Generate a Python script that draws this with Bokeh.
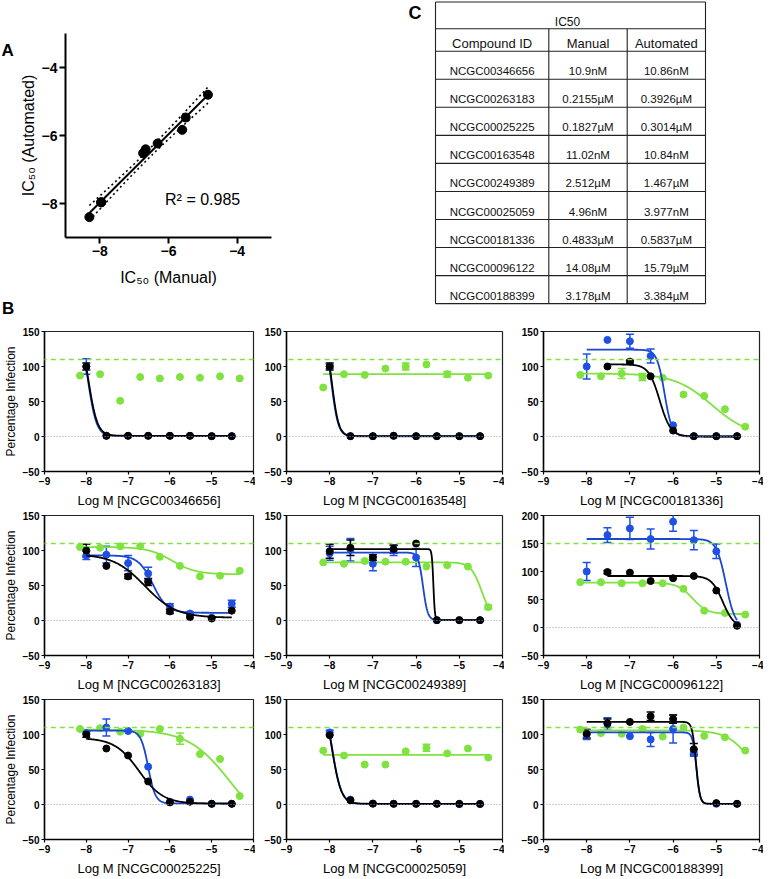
import numpy as np
from bokeh.plotting import figure
from bokeh.models import (Range1d, FixedTicker, Span, Whisker, TeeHead,
                          PolyAnnotation, ColumnDataSource, Spacer)
from bokeh.layouts import row, column
from bokeh.embed import file_html
from bokeh.resources import INLINE
from bokeh.core.properties import value

FONT = "Liberation Sans"
GREEN = "#7FE23F"
BLUE = "#1E50E6"
BLUE_LINE = "#1A46D0"
BLACK = "#000000"

# ---------------- Panel A / Table C data ----------------
compound_ids = ["NCGC00346656", "NCGC00263183", "NCGC00025225", "NCGC00163548",
                "NCGC00249389", "NCGC00025059", "NCGC00181336", "NCGC00096122",
                "NCGC00188399"]
ic50_manual_nM = [10.9, 215.5, 182.7, 11.02, 2512, 4.96, 483.3, 14080, 3178]
ic50_automated_nM = [10.86, 392.6, 301.4, 10.84, 1467, 3.977, 583.7, 15790, 3384]
r_squared = 0.985
t_975_df7 = 2.365

# ---------------- Panel B data ----------------
dose_bk = [-8.0, -7.52, -7.0, -6.52, -6.0, -5.52, -5.0, -4.52]      # black & blue
dose_gr = [-8.15, -7.67, -7.19, -6.71, -6.24, -5.76, -5.28, -4.80, -4.33]  # green
nan = float("nan")

panel_compounds = ["NCGC00346656", "NCGC00163548", "NCGC00181336",
                   "NCGC00263183", "NCGC00249389", "NCGC00096122",
                   "NCGC00025225", "NCGC00025059", "NCGC00188399"]
panel_ymax = [150, 150, 150, 150, 150, 200, 150, 150, 150]
green_ref_level = [110, 110, 110, 110, 110, 150, 110, 110, 110]

# NCGC00346656
bk_346656 = [100, 1, 1, 1, 1, 1, 0.5, 0.5]
bk_346656_err = [5, 0, 0, 0, 0, 0, 0, 0]
bl_346656 = [100, 1, 1, 1, 1, 1, 0.5, 0.5]
bl_346656_err = [11, 0, 0, 0, 0, 0, 0, 0]
gr_346656 = [87, 89, 51, 85, 83, 85, 84, 86, 83]
gr_346656_err = None
fit_bk_346656 = (160, 1, -7.95, 4)
fit_bl_346656 = (160, 0.5, -7.96, 4.2)
fit_gr_346656 = None

# NCGC00163548
bk_163548 = [100, 0.5, 0.5, 1, 0.5, 0.5, 0.5, 0.5]
bk_163548_err = [5, 0, 0, 0, 0, 0, 0, 0]
bl_163548 = [100, 0.5, 0.5, 1, 0.5, 0.5, 0.5, 0.5]
bl_163548_err = [3, 0, 0, 0, 0, 0, 0, 0]
gr_163548 = [70, 89, 88, 97, 100, 103, 89, 84, 87]
gr_163548_err = [0, 0, 0, 0, 5, 0, 4, 0, 0]
fit_bk_163548 = (153, 0.5, -7.95, 5.5)
fit_bl_163548 = (153, 0.3, -7.96, 5.5)
fit_gr_163548 = (89, 89, -6.0, 1)

# NCGC00181336
bk_181336 = [nan, 100, 107, 86, 8.4, 0.5, 0.5, 0.5]
bk_181336_err = [0, 0, 2, 0, 0, 0, 0, 0]
bl_181336 = [100, 138, 136, 115, 16, 0.5, 0.5, 0.5]
bl_181336_err = [18, 0, 10, 10, 0, 0, 0, 0]
gr_181336 = [88, 86, 90, 85, 84, 60, 58, 39, 14]
gr_181336_err = [0, 0, 7, 5, 0, 0, 0, 0, 0]
fit_bk_181336 = (103, 0, -6.31, 3.4)
fit_bl_181336 = (124, 0, -6.2, 5)
fit_gr_181336 = (90, 0, -5.1, 1)

# NCGC00263183
bk_263183 = [100, 78, 63, 55, 13, 4.7, 2.8, 14]
bk_263183_err = [9, 0, 3, 5, 3, 0, 0, 0]
bl_263183 = [93, 94, 82, 67, 20, 10, 4, 24]
bl_263183_err = [6, 12, 11, 9, 4, 2, 0, 5]
gr_263183 = [105, 104, 106, 106, 91, 78, 63, 64, 71]
gr_263183_err = None
fit_bk_263183 = (95, 4, -6.6, 1.15)
fit_bl_263183 = (93, 11, -6.41, 2.5)
fit_gr_263183 = (105, 66, -5.95, 1.5)

# NCGC00249389
bk_249389 = [99, 104, 90, 102, 110, 0.5, 0.5, 0.5]
bk_249389_err = [10, 11, 4, 6, 0, 0, 0, 0]
bl_249389 = [96, 101, 81, 100, 90, 0.5, 0.5, 0.5]
bl_249389_err = [10, 16, 10, 7, 13, 0, 0, 0]
gr_249389 = [83, 81, 85, 84, 84, 77, 79, 77, 19]
gr_249389_err = [0, 0, 2, 0, 0, 0, 0, 0, 3]
fit_bk_249389 = (102, 0.5, -5.6, 25)
fit_bl_249389 = (97, 0.5, -5.84, 8)
fit_gr_249389 = (83, 0, -4.48, 3.5)

# NCGC00096122
bk_096122 = [nan, 99, 98, 83, 88, 92, 66, 3]
bk_096122_err = [0, 3, 0, 0, 0, 0, 0, 0]
bl_096122 = [100, 165, 177, 158, 189, 156, 136, 5]
bl_096122_err = [16, 13, 20, 18, 17, 17, 13, 0]
gr_096122 = [81, 81, 79, 79, 79, 69, 30, 26, 23]
gr_096122_err = None
fit_bk_096122 = (92, 0, -4.85, 3.3)
fit_bl_096122 = (158, 0, -4.78, 4)
fit_gr_096122 = (80, 24, -5.55, 2.5)

# NCGC00025225
bk_025225 = [100, 80, 70, 33, 3, 4, 1, 1]
bk_025225_err = [4, 0, 0, 0, 0, 0, 0, 0]
bl_025225 = [102, 110, 105, 54, 4, 7, 1, 1]
bl_025225_err = [0, 12, 0, 0, 0, 0, 0, 0]
gr_025225 = [108, 109, 104, 101, 108, 94, 72, 65, 12]
gr_025225_err = [0, 0, 0, 0, 0, 8, 0, 0, 0]
fit_bk_025225 = (95, 1, -6.74, 1.5)
fit_bl_025225 = (105.5, 1.5, -6.52, 5)
fit_gr_025225 = (107, -40, -4.57, 0.88)

# NCGC00025059
bk_025059 = [99, 6, 1.4, 1, 1, 1, 1, 1]
bk_025059_err = None
bl_025059 = [103, 7, 1, 1, 1, 1, 0.5, 0.5]
bl_025059_err = [3, 0, 0, 0, 0, 0, 0, 0]
gr_025059 = [77, 70, 57, 57, 76, 81, 73, 80, 67]
gr_025059_err = [0, 0, 0, 0, 0, 5, 0, 0, 0]
fit_bk_025059 = (160, 1, -7.95, 4)
fit_bl_025059 = (165, 0.5, -7.95, 4)
fit_gr_025059 = (71, 71, -6.0, 1)

# NCGC00188399
bk_188399 = [101, 116, 118, 126, 122, 79, 2, 1]
bk_188399_err = [6, 6, 0, 6, 6, 8, 0, 0]
bl_188399 = [100, 115, 97.5, 93, 108, 74, 1, 1]
bl_188399_err = [7, 9, 0, 10, 20, 5, 0, 0]
gr_188399 = [107, 102, 101, 108, 97, 110, 98, 96, 77]
gr_188399_err = None
fit_bk_188399 = (118, 1, -5.47, 10)
fit_bl_188399 = (103, 0.5, -5.46, 10)
fit_gr_188399 = (106, 0, -4.1, 1.5)

panel_series = [
    (bk_346656, bk_346656_err, fit_bk_346656, bl_346656, bl_346656_err, fit_bl_346656, gr_346656, gr_346656_err, fit_gr_346656),
    (bk_163548, bk_163548_err, fit_bk_163548, bl_163548, bl_163548_err, fit_bl_163548, gr_163548, gr_163548_err, fit_gr_163548),
    (bk_181336, bk_181336_err, fit_bk_181336, bl_181336, bl_181336_err, fit_bl_181336, gr_181336, gr_181336_err, fit_gr_181336),
    (bk_263183, bk_263183_err, fit_bk_263183, bl_263183, bl_263183_err, fit_bl_263183, gr_263183, gr_263183_err, fit_gr_263183),
    (bk_249389, bk_249389_err, fit_bk_249389, bl_249389, bl_249389_err, fit_bl_249389, gr_249389, gr_249389_err, fit_gr_249389),
    (bk_096122, bk_096122_err, fit_bk_096122, bl_096122, bl_096122_err, fit_bl_096122, gr_096122, gr_096122_err, fit_gr_096122),
    (bk_025225, bk_025225_err, fit_bk_025225, bl_025225, bl_025225_err, fit_bl_025225, gr_025225, gr_025225_err, fit_gr_025225),
    (bk_025059, bk_025059_err, fit_bk_025059, bl_025059, bl_025059_err, fit_bl_025059, gr_025059, gr_025059_err, fit_gr_025059),
    (bk_188399, bk_188399_err, fit_bk_188399, bl_188399, bl_188399_err, fit_bl_188399, gr_188399, gr_188399_err, fit_gr_188399),
]


def logistic(x, top, bottom, logic50, hill):
    return bottom + (top - bottom) / (1.0 + 10.0 ** ((x - logic50) * hill))


def fmt_conc(v):
    return f"{v:g}nM" if v < 100 else f"{v / 1000:g}\u00b5M"


TOP_H = 320
LETTER_W = 16

# ---------------- Panel letters (A, B) ----------------
la = figure(width=LETTER_W, height=TOP_H, x_range=Range1d(0, LETTER_W), y_range=Range1d(TOP_H, 0),
            min_border=0, x_axis_type=None, y_axis_type=None, frame_align=False,
            output_backend="svg", toolbar_location=None)
la.outline_line_color = None
la.xgrid.visible = False
la.ygrid.visible = False
la.text(x=[1, 1.5], y=[50, 308], text=["A", "B"], text_font=value(FONT), text_font_style="bold",
        text_font_size="17px", text_align="left", text_baseline="middle", text_color=BLACK)

# ---------------- Panel A ----------------
A_BL, A_BR, A_BT, A_FW, A_FH = 65 - LETTER_W, 10, 33, 206, 204
pa = figure(width=A_BL + A_FW + A_BR, height=TOP_H, x_range=Range1d(-9, -3), y_range=Range1d(-9, -3),
            min_border_left=A_BL, min_border_right=A_BR, min_border_top=A_BT,
            min_border_bottom=TOP_H - A_BT - A_FH, frame_align=False,
            output_backend="svg", toolbar_location=None)
pa.outline_line_color = None
pa.xgrid.visible = False
pa.ygrid.visible = False
for ax in (pa.xaxis, pa.yaxis):
    ax.ticker = FixedTicker(ticks=[-8, -6, -4])
    ax.axis_line_width = 2
    ax.major_tick_line_width = 2
    ax.major_tick_out = 6
    ax.major_tick_in = 0
    ax.minor_tick_line_color = None
    ax.major_label_text_font = FONT
    ax.major_label_text_font_style = "bold"
    ax.major_label_text_font_size = "14px"
    ax.major_label_text_color = BLACK
    ax.major_label_standoff = 2
    ax.axis_label_text_font = FONT
    ax.axis_label_text_font_style = "normal"
    ax.axis_label_text_font_size = "16px"
    ax.axis_label_text_color = BLACK
pa.xaxis.axis_label_standoff = 10
pa.yaxis.axis_label_standoff = 2
pa.xaxis.axis_label = "IC\u2085\u2080 (Manual)"
pa.yaxis.axis_label = "IC\u2085\u2080 (Automated)"

xa = np.log10(np.array(ic50_manual_nM) * 1e-9)
ya = np.log10(np.array(ic50_automated_nM) * 1e-9)
slope, intercept = np.polyfit(xa, ya, 1)
n = len(xa)
resid = ya - (slope * xa + intercept)
s_err = np.sqrt(np.sum(resid ** 2) / (n - 2))
sxx = np.sum((xa - xa.mean()) ** 2)
xx = np.linspace(xa.min(), xa.max(), 60)
yy = slope * xx + intercept
band = t_975_df7 * s_err * np.sqrt(1.0 / n + (xx - xa.mean()) ** 2 / sxx)
pa.line(xx, yy + band, line_color=BLACK, line_width=1.6, line_dash="2 3")
pa.line(xx, yy - band, line_color=BLACK, line_width=1.6, line_dash="2 3")
pa.line(xx, yy, line_color=BLACK, line_width=2)
pa.scatter(xa, ya, size=9, color=BLACK)
pa.text(x=[-6.1], y=[-7.87], text=[f"R\u00b2 = {r_squared:.3f}"], text_font=value(FONT),
        text_font_size="16px", text_baseline="middle", text_align="left", text_color=BLACK)

# ---------------- Table C ----------------
TW = 305
tb = figure(width=TW, height=TOP_H, x_range=Range1d(0, TW), y_range=Range1d(TOP_H, 0),
            min_border=0, x_axis_type=None, y_axis_type=None, frame_align=False,
            output_backend="svg", toolbar_location=None)
tb.outline_line_color = None
tb.xgrid.visible = False
tb.ygrid.visible = False
col_x = [30, 143.3, 221.7, 300]
row_top = 1.5
title_h, head_h, data_h = 26.8, 22.4, 28.05
row_y = [row_top, row_top + title_h, row_top + title_h + head_h]
for k in range(len(compound_ids)):
    row_y.append(row_y[-1] + data_h)
tb.segment(x0=[col_x[0]] * len(row_y), x1=[col_x[-1]] * len(row_y), y0=row_y, y1=row_y,
           line_color="#222222", line_width=1.1)
tb.segment(x0=[col_x[0], col_x[-1], col_x[1], col_x[2]],
           x1=[col_x[0], col_x[-1], col_x[1], col_x[2]],
           y0=[row_y[0], row_y[0], row_y[1], row_y[1]],
           y1=[row_y[-1]] * 4, line_color="#222222", line_width=1.1)
centers = [(col_x[i] + col_x[i + 1]) / 2 for i in range(3)]
tx, ty, tt, ts = [], [], [], []
tx.append(162); ty.append(row_y[1] - 6.5); tt.append("IC50"); ts.append("12px")
for i, h in enumerate(["Compound ID", "Manual", "Automated"]):
    tx.append(centers[i]); ty.append(row_y[2] - 7.5); tt.append(h); ts.append("13px")
for k, cid in enumerate(compound_ids):
    yb = row_y[3 + k] - 8
    for i, s in enumerate([cid, fmt_conc(ic50_manual_nM[k]), fmt_conc(ic50_automated_nM[k])]):
        tx.append(centers[i]); ty.append(yb); tt.append(s); ts.append("11.5px")
tb.text(x="x", y="y", text="t", text_font_size="s",
        source=ColumnDataSource(dict(x=tx, y=ty, t=tt, s=ts)),
        text_font=value(FONT), text_align="center", text_baseline="middle", text_color="#111111")
tb.text(x=[3], y=[12], text=["C"], text_font=value(FONT), text_font_style="bold",
        text_font_size="18px", text_align="left", text_baseline="middle", text_color=BLACK)

# ---------------- Panel B grid ----------------
FRAME_W, FRAME_H = 216, 143
BORDER_L = [37, 31, 39]
BORDER_R = [2, 2, 4]
BORDER_T = [11, 5, 5]
BORDER_B = 36


def add_series(p, xs, ys, errs, fit, color, line_color):
    xs = np.array(xs, float)
    ys = np.array(ys, float)
    ok = ~np.isnan(ys)
    if errs is not None:
        e = np.array(errs, float)
        m = ok & (e > 0)
        if m.any():
            src = ColumnDataSource(dict(x=xs[m], lo=ys[m] - e[m], hi=ys[m] + e[m]))
            p.add_layout(Whisker(source=src, base="x", lower="lo", upper="hi",
                                 line_color=color, line_width=1.5,
                                 lower_head=TeeHead(size=8, line_color=color, line_width=1.5),
                                 upper_head=TeeHead(size=8, line_color=color, line_width=1.5)))
    if fit is not None:
        xx_ = np.linspace(xs[ok][0], xs[ok][-1], 300)
        p.line(xx_, logistic(xx_, *fit), line_color=line_color, line_width=1.8)
    p.scatter(xs[ok], ys[ok], size=7, color=color)


def make_panel(i):
    r, c = divmod(i, 3)
    ymax = panel_ymax[i]
    W = BORDER_L[c] + FRAME_W + BORDER_R[c]
    H = BORDER_T[r] + FRAME_H + BORDER_B
    p = figure(width=W, height=H, x_range=Range1d(-9, -4), y_range=Range1d(-50, ymax),
               min_border_left=BORDER_L[c], min_border_right=BORDER_R[c],
               min_border_top=BORDER_T[r], min_border_bottom=BORDER_B, frame_align=False,
               output_backend="svg", toolbar_location=None)
    p.xgrid.visible = False
    p.ygrid.visible = False
    p.outline_line_color = "#222222"
    p.outline_line_width = 1.2
    p.xaxis.ticker = FixedTicker(ticks=[-9, -8, -7, -6, -5, -4])
    p.yaxis.ticker = FixedTicker(ticks=list(range(-50, ymax + 1, 50)))
    for ax in (p.xaxis, p.yaxis):
        ax.axis_line_width = 1.5
        ax.major_tick_line_width = 1.2
        ax.major_tick_out = 3
        ax.major_tick_in = 0
        ax.minor_tick_line_color = None
        ax.major_label_text_font = FONT
        ax.major_label_text_font_style = "bold"
        ax.major_label_text_font_size = "10px"
        ax.major_label_text_color = BLACK
        ax.major_label_standoff = 2
        ax.axis_label_text_font = FONT
        ax.axis_label_text_font_style = "normal"
        ax.axis_label_text_color = BLACK
    p.xaxis.axis_label = f"Log M [{panel_compounds[i]}]"
    p.xaxis.axis_label_text_font_size = "13px"
    p.xaxis.axis_label_standoff = 5
    if c == 0:
        p.yaxis.axis_label = "Percentage Infection"
        p.yaxis.axis_label_text_font_size = "12px"
        p.yaxis.axis_label_standoff = 2
    # reference lines
    p.add_layout(Span(location=0, dimension="width", line_color="#9a9a9a",
                      line_dash="1 2", line_width=1))
    ppu = FRAME_W / 5.0
    x0 = -9 - (BORDER_L[c] + 3) / ppu
    x1 = -4 + (BORDER_R[c] + 3) / ppu
    lvl = green_ref_level[i]
    p.add_layout(PolyAnnotation(xs=[x0, x1, x1, x0], ys=[lvl, lvl, lvl + 1000, lvl + 1000],
                                fill_color=None, fill_alpha=0, line_color=GREEN, line_alpha=1.0,
                                line_width=1.6, line_dash="5 4", level="annotation"))
    bk, bke, bkf, bl, ble, blf, gr, gre, grf = panel_series[i]
    add_series(p, dose_gr, gr, gre, grf, GREEN, GREEN)
    add_series(p, dose_bk, bl, ble, blf, BLUE, BLUE_LINE)
    add_series(p, dose_bk, bk, bke, bkf, BLACK, BLACK)
    return p


panels = [make_panel(i) for i in range(9)]

top = row(la, pa, Spacer(width=405 - LETTER_W - (A_BL + A_FW + A_BR), height=TOP_H), tb)
layout = column(top,
                row(panels[0], panels[1], panels[2]),
                row(panels[3], panels[4], panels[5]),
                row(panels[6], panels[7], panels[8]))

open("out.html", "w").write(file_html(layout, INLINE))
